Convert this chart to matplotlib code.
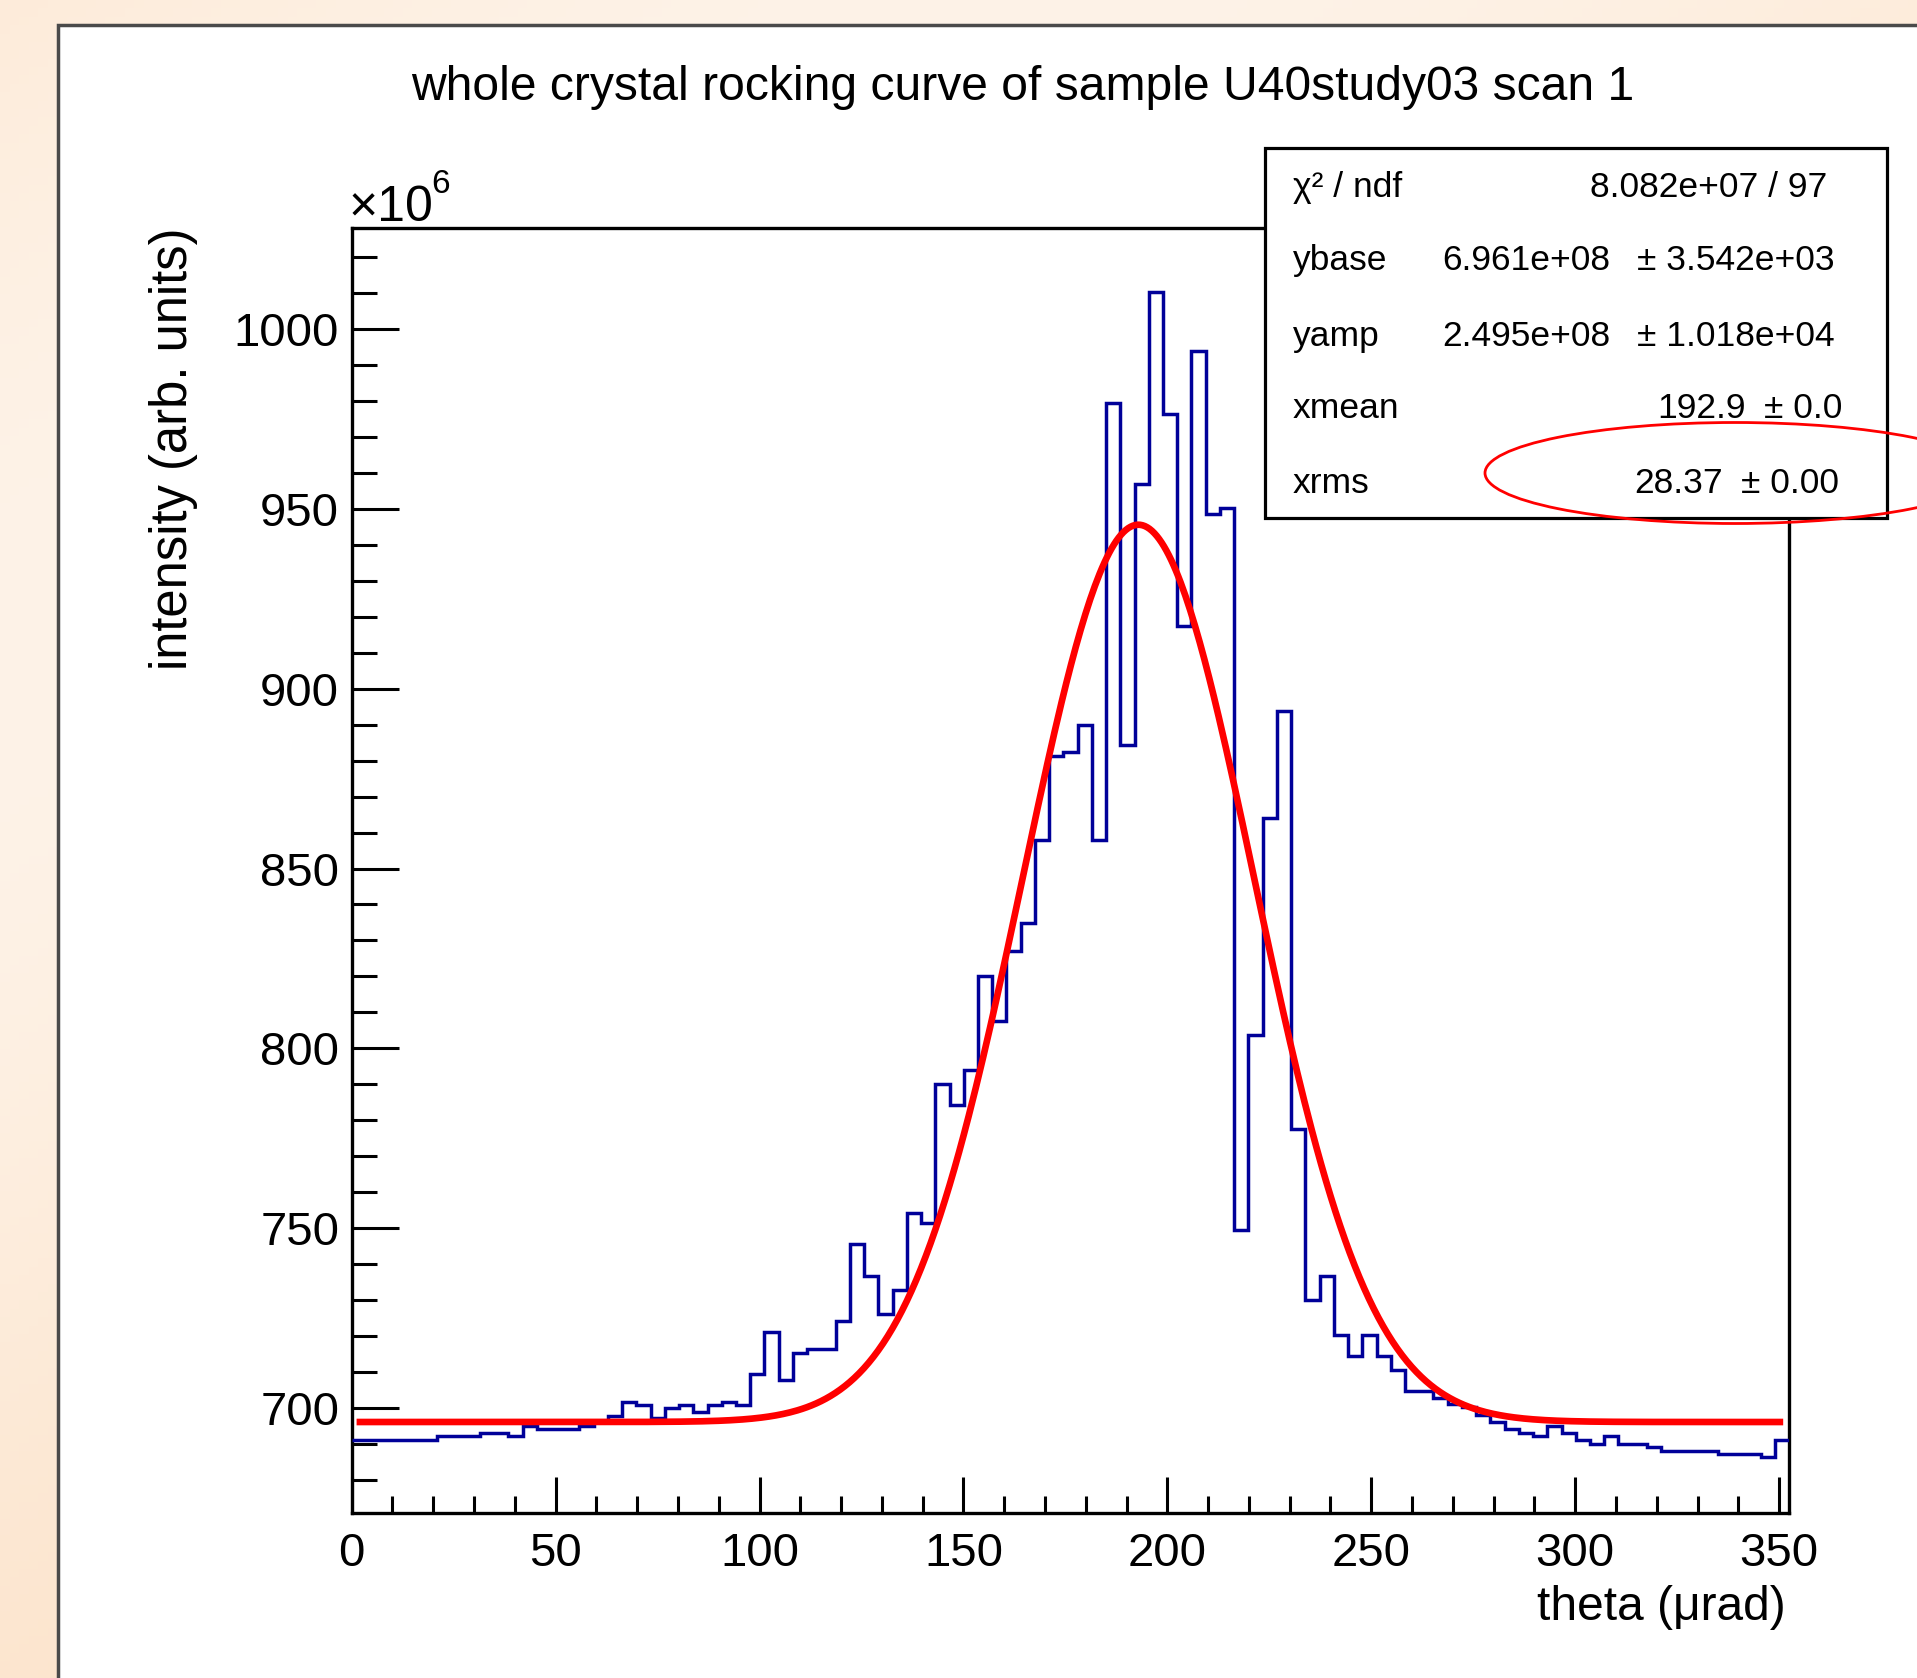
import numpy as np
import matplotlib
matplotlib.use('Agg')
import matplotlib.pyplot as plt
from matplotlib.patches import Rectangle, Ellipse

plt.rcParams['font.family'] = ['Liberation Sans', 'DejaVu Sans']

# ---------------- data ----------------
title = "whole crystal rocking curve of sample U40study03 scan 1"
x_label = "theta (\u03bcrad)"
y_label = "intensity (arb. units)"

theta_min = 0.0
theta_max = 352.5
n_bins = 101

# bin contents in units of 1e6
counts = [
    691.2, 691.2, 691.2, 691.2, 691.2, 691.2, 692.1, 692.1, 692.1, 693.0,
    693.0, 692.1, 695.1, 694.2, 694.2, 694.2, 695.1, 696.0, 697.9, 701.8,
    700.9, 697.2, 700.0, 700.9, 698.9, 700.9, 701.8, 700.9, 709.4, 721.2,
    707.7, 715.2, 716.4, 716.4, 724.2, 745.5, 736.7, 726.1, 732.9, 754.2,
    751.3, 790.0, 784.2, 793.9, 820.2, 807.5, 827.1, 834.8, 858.0, 881.4,
    882.3, 890.0, 858.0, 979.4, 884.3, 956.9, 1010.4, 976.4, 917.5, 993.9,
    948.5, 950.2, 749.5, 803.6, 864.0, 893.8, 777.6, 730.0, 736.7, 720.3,
    714.4, 720.4, 714.4, 710.5, 704.8, 704.8, 702.9, 701.0, 700.2, 698.0,
    696.0, 694.2, 693.1, 692.1, 695.1, 693.1, 691.2, 690.1, 692.1, 690.1,
    690.1, 689.2, 688.1, 688.1, 688.1, 688.1, 687.2, 687.2, 687.2, 686.3,
    691.2,
]

# fit parameters shown in the stats box (y in units of 1e6)
ybase = 696.1
yamp = 249.5
xmean = 192.9
xrms = 28.37
fit_range = (1.2, 351.0)

stats_labels = ["\u03c7\u00b2 / ndf", "ybase", "yamp", "xmean", "xrms"]
stats_values = ["8.082e+07 / 97", "6.961e+08", "2.495e+08", "192.9", "28.37"]
stats_errors = ["", "\u00b1 3.542e+03", "\u00b1 1.018e+04", "\u00b1 0.0", "\u00b1 0.00"]

x_major = [0, 50, 100, 150, 200, 250, 300, 350]
y_major = [700, 750, 800, 850, 900, 950, 1000]

# ---------------- figure ----------------
W, H = 1917, 1678
fig = plt.figure(figsize=(W / 100, H / 100), dpi=100)
fig.patch.set_facecolor('#FDEAD6')

# soft peach background gradient
bg = fig.add_axes([0, 0, 1, 1], zorder=-10)
bg.set_axis_off()
gy, gx = np.mgrid[0:1:200j, 0:1:200j]
shade = 0.5 + 0.5 * np.sin(3.0 * gx + 4.0 * gy)
c_dark = np.array([252, 228, 204]) / 255.0
c_light = np.array([254, 243, 232]) / 255.0
img = c_dark[None, None, :] * (1 - shade[..., None]) + c_light[None, None, :] * shade[..., None]
bg.imshow(img, extent=[0, 1, 0, 1], aspect='auto', origin='upper')
bg.set_xlim(0, 1)
bg.set_ylim(0, 1)


def fx(px):
    return px / W


def fy(py):
    return 1 - py / H


# white canvas with dark border
bg.add_patch(Rectangle((fx(57.5), -0.1), 1.2, fy(25) + 0.1,
                       transform=bg.transAxes, facecolor='white',
                       edgecolor='#4a4a4a', linewidth=2.5, zorder=2))

ax = fig.add_axes([fx(351.7), fy(1513), fx(1789.3) - fx(351.7), fy(228) - fy(1513)])
ax.set_facecolor('white')

edges = np.linspace(theta_min, theta_max, n_bins + 1)
ax.stairs(counts, edges, baseline=None, color='#000099', linewidth=2.5, zorder=3)

xf = np.linspace(fit_range[0], fit_range[1], 600)
yf = ybase + yamp * np.exp(-0.5 * ((xf - xmean) / xrms) ** 2)
ax.plot(xf, yf, color='#ff0000', linewidth=4.8, solid_capstyle='butt', zorder=4)

ax.set_xlim(theta_min, theta_max)
ax.set_ylim(670.8, 1028.1)

ax.set_xticks(x_major)
ax.set_xticklabels([str(v) for v in x_major])
ax.set_xticks(np.arange(0, 353, 10), minor=True)
ax.set_yticks(y_major)
ax.set_yticklabels([str(v) for v in y_major])
ax.set_yticks(np.arange(680, 1028, 10), minor=True)

for s in ax.spines.values():
    s.set_linewidth(2.4)
    s.set_color('black')

ax.tick_params(axis='x', which='major', direction='in', length=26, width=2.2,
               labelsize=34, pad=14, top=False)
ax.tick_params(axis='x', which='minor', direction='in', length=12.5, width=2.2, top=False)
ax.tick_params(axis='y', which='major', direction='in', length=34, width=2.2,
               labelsize=34, pad=9, right=False)
ax.tick_params(axis='y', which='minor', direction='in', length=18, width=2.2, right=False)

# titles
fig.text(fx(1023), fy(100), title, ha='center', va='baseline', fontsize=34.6)
fig.text(fx(173), fy(228), y_label, rotation=90, ha='center', va='top', fontsize=36.5)
fig.text(fx(1786), fy(1608), x_label, ha='right', va='center', fontsize=34.5)

# x10^6 multiplier
fig.text(fx(349), fy(221), "\u00d710", ha='left', va='baseline', fontsize=36)
fig.text(fx(431), fy(193), "6", ha='left', va='baseline', fontsize=24)

# stats box
fig.patches.append(Rectangle((fx(1265.4), fy(518)), fx(1886.5) - fx(1265.4), fy(148) - fy(518),
                             transform=fig.transFigure, facecolor='white',
                             edgecolor='black', linewidth=2.3, zorder=5))
row_base = [197, 270, 346, 418, 493]
val_right = [1827, 1610, 1610, 1746, 1723]
err_left = [None, 1637, 1637, 1764, 1741]
for lab, val, err, yb, vr, el in zip(stats_labels, stats_values, stats_errors,
                                     row_base, val_right, err_left):
    fig.text(fx(1293), fy(yb), lab, ha='left', va='baseline', fontsize=25.5, zorder=6)
    fig.text(fx(vr), fy(yb), val, ha='right', va='baseline', fontsize=25.5, zorder=6)
    if el is not None:
        fig.text(fx(el), fy(yb), err, ha='left', va='baseline', fontsize=25.5, zorder=6)

# red ellipse annotation
fig.patches.append(Ellipse((fx(1735), fy(473)), 500 / W, 101 / H, transform=fig.transFigure,
                           fill=False, edgecolor='#ff0000', linewidth=2.0, zorder=7))

fig.savefig('out.png', dpi=100, facecolor=fig.get_facecolor())
